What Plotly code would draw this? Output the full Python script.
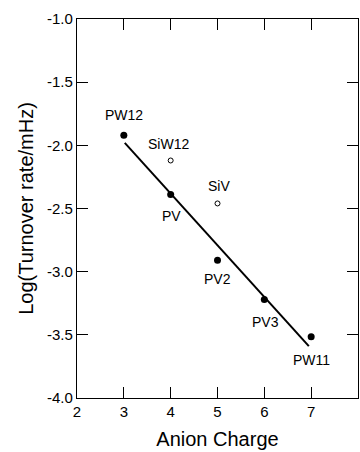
import plotly.graph_objects as go

# ---- data ----
labels = ["PW12", "SiW12", "PV", "SiV", "PV2", "PV3", "PW11"]
anion_charge = [3, 4, 4, 5, 5, 6, 7]
log_rate = [-1.92, -2.12, -2.39, -2.46, -2.91, -3.22, -3.515]
is_open = [False, True, False, True, False, False, False]

fit_x = [3.02, 6.95]
fit_y = [-1.98, -3.59]

x_ticks = [2, 3, 4, 5, 6, 7, 8]
y_ticks = [-1.0, -1.5, -2.0, -2.5, -3.0, -3.5, -4.0]
y_tick_text = ["-1.0", "-1.5", "-2.0", "-2.5", "-3.0", "-3.5", "-4.0"]

# label offsets (pixels) relative to their points
label_dx = [0, -2, 1, 1, 0, 1, 0]
label_dy = [20, 16, -21, 17, -19, -23, -23]

FONT = "Liberation Sans, Arial, Helvetica, sans-serif"

fig = go.Figure()

fig.add_trace(go.Scatter(
    x=fit_x, y=fit_y, mode="lines",
    line=dict(color="black", width=2), showlegend=False, hoverinfo="skip"))

fx = [x for x, o in zip(anion_charge, is_open) if not o]
fy = [y for y, o in zip(log_rate, is_open) if not o]
ox = [x for x, o in zip(anion_charge, is_open) if o]
oy = [y for y, o in zip(log_rate, is_open) if o]

fig.add_trace(go.Scatter(
    x=fx, y=fy, mode="markers",
    marker=dict(color="black", size=7, symbol="circle"), showlegend=False))
fig.add_trace(go.Scatter(
    x=ox, y=oy, mode="markers",
    marker=dict(color="white", size=5, symbol="circle",
                line=dict(color="black", width=1)), showlegend=False))

for lab, x, y, dx, dy in zip(labels, anion_charge, log_rate, label_dx, label_dy):
    fig.add_annotation(x=x, y=y, text=lab, showarrow=False,
                       xshift=dx, yshift=dy,
                       font=dict(family=FONT, size=14, color="black"))

axis_common = dict(
    showline=True, linecolor="black", linewidth=1.3, mirror="ticks",
    ticks="inside", ticklen=11, tickwidth=1.3, tickcolor="black",
    showgrid=False, zeroline=False,
    tickfont=dict(family=FONT, size=15, color="black"),
)

fig.update_xaxes(range=[2, 8], tickvals=x_ticks, **axis_common,
                 title=dict(text="Anion Charge", standoff=12,
                            font=dict(family=FONT, size=20, color="black")))
fig.update_yaxes(range=[-4.0, -1.0], tickvals=y_ticks, ticktext=y_tick_text,
                 **axis_common,
                 title=dict(text="Log(Turnover rate/mHz)", standoff=7,
                            font=dict(family=FONT, size=20, color="black")))

fig.update_layout(
    width=360, height=452,
    margin=dict(l=77, r=2, t=19, b=54),
    paper_bgcolor="white", plot_bgcolor="white",
    font=dict(family=FONT, color="black"),
)

fig.write_html("out.html")
